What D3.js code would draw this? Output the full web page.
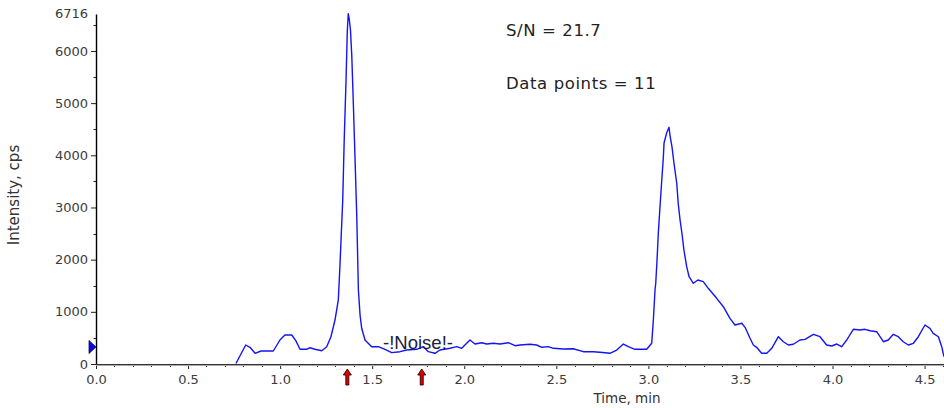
<!DOCTYPE html>
<html>
<head>
<meta charset="utf-8">
<script src="https://cdn.jsdelivr.net/npm/d3@7"></script>
<style>
  body { margin: 0; background: #fff; }
  svg { display: block; }
</style>
</head>
<body>
<svg id="chart" width="944" height="408"></svg>
<script>
// trace: time (min) and intensity (cps)
const times = [0.760, 0.813, 0.836, 0.864, 0.896, 0.963, 0.999, 1.026, 1.063, 1.085,
  1.108, 1.144, 1.162, 1.189, 1.226, 1.253, 1.276, 1.298, 1.316, 1.325,
  1.340, 1.348, 1.358, 1.365, 1.370, 1.376, 1.382, 1.389, 1.397, 1.407,
  1.416, 1.425, 1.434, 1.443, 1.461, 1.497, 1.533, 1.570, 1.606, 1.651,
  1.687, 1.742, 1.778, 1.805, 1.841, 1.868, 1.923, 1.959, 1.986, 2.031,
  2.058, 2.095, 2.122, 2.158, 2.194, 2.239, 2.276, 2.303, 2.357, 2.393,
  2.421, 2.456, 2.484, 2.538, 2.592, 2.647, 2.701, 2.737, 2.791, 2.828,
  2.864, 2.891, 2.927, 2.991, 3.018, 3.027, 3.036, 3.040, 3.047, 3.054,
  3.063, 3.072, 3.081, 3.085, 3.099, 3.112, 3.117, 3.128, 3.139, 3.154,
  3.162, 3.172, 3.182, 3.193, 3.208, 3.221, 3.244, 3.269, 3.298, 3.325,
  3.371, 3.407, 3.443, 3.470, 3.507, 3.525, 3.552, 3.570, 3.588, 3.615,
  3.643, 3.670, 3.706, 3.733, 3.760, 3.787, 3.823, 3.851, 3.896, 3.932,
  3.968, 3.996, 4.023, 4.050, 4.077, 4.113, 4.149, 4.176, 4.204, 4.240,
  4.276, 4.303, 4.330, 4.357, 4.384, 4.412, 4.439, 4.466, 4.502, 4.529,
  4.547, 4.575, 4.593, 4.605];
const intensity = [10, 364, 320, 205, 249, 249, 460, 556, 556, 447,
  282, 282, 312, 282, 255, 332, 523, 843, 1227, 1898,
  3144, 4294, 5444, 6402, 6716, 6594, 6402, 5923, 5060, 3910,
  2856, 1418, 939, 684, 460, 332, 332, 282, 217, 236,
  268, 282, 332, 236, 205, 268, 301, 332, 301, 460,
  383, 408, 383, 397, 383, 408, 351, 364, 378, 364,
  320, 332, 301, 288, 293, 236, 236, 224, 205, 268,
  383, 332, 282, 282, 397, 843, 1418, 1553, 1993, 2511,
  3015, 3494, 3949, 4236, 4428, 4537, 4389, 4165, 3847, 3464,
  3080, 2760, 2511, 2185, 1865, 1673, 1547, 1610, 1578, 1451,
  1259, 1098, 876, 748, 780, 703, 493, 364, 320, 205,
  205, 301, 523, 427, 364, 378, 460, 473, 569, 523,
  364, 345, 383, 332, 460, 665, 652, 665, 638, 619,
  427, 460, 569, 523, 427, 364, 397, 523, 748, 684,
  588, 523, 332, 140];

const yMax = 6716;
const xMax = 4.6;
const yTickValues = [0, 1000, 2000, 3000, 4000, 5000, 6000];
const xTickValues = [0, 0.5, 1.0, 1.5, 2.0, 2.5, 3.0, 3.5, 4.0, 4.5];
const noiseArrows = [1.365, 1.769];
const thresholdLevel = 326;
const annotations = ['S/N = 21.7', 'Data points = 11'];

const plotLeft = 96, plotRight = 943, plotTop = 13.6, plotBottom = 364;
const svg = d3.select('#chart');

const x = d3.scaleLinear().domain([0, xMax]).range([plotLeft, plotRight]);
const y = d3.scaleLinear().domain([0, yMax]).range([plotBottom, plotTop]);

svg.append('defs').append('clipPath')
  .attr('id', 'plotClip')
  .append('rect')
  .attr('x', plotLeft)
  .attr('y', 0)
  .attr('width', plotRight - plotLeft + 1)
  .attr('height', plotBottom + 1);

// y axis
let yAxis = d3.axisLeft(y)
  .tickValues(yTickValues)
  .tickSize(5)
  .tickPadding(3)
  .tickFormat(d3.format('d'));
let yg = svg.append('g')
  .attr('transform', 'translate(' + plotLeft + ',0)')
  .call(yAxis);
yg.select('.domain').remove();
yg.selectAll('text')
  .style('font-family', '"DejaVu Sans", Verdana, sans-serif')
  .style('font-size', '13px')
  .attr('fill', '#3c3c3c');
yg.selectAll('line').attr('stroke', '#222');

let yMinor = d3.range(500, 6716, 1000);
svg.append('g').selectAll('line')
  .data(yMinor)
  .enter()
  .append('line')
  .attr('x1', plotLeft - 2.5)
  .attr('x2', plotLeft)
  .attr('y1', function (d) { return Math.round(y(d)) + 0.5; })
  .attr('y2', function (d) { return Math.round(y(d)) + 0.5; })
  .attr('stroke', '#222');

svg.append('text')
  .attr('x', plotLeft - 8)
  .attr('y', y(yMax) + 4.5)
  .attr('text-anchor', 'end')
  .style('font-family', '"DejaVu Sans", Verdana, sans-serif')
  .style('font-size', '13px')
  .attr('fill', '#3c3c3c')
  .text(yMax);

svg.append('line')
  .attr('x1', plotLeft + 0.5)
  .attr('x2', plotLeft + 0.5)
  .attr('y1', plotTop + 1)
  .attr('y2', plotBottom + 1)
  .attr('stroke', '#000')
  .attr('stroke-width', 1.4);

// x axis
let xAxis = d3.axisBottom(x)
  .tickValues(xTickValues)
  .tickSize(5)
  .tickPadding(6)
  .tickFormat(d3.format('.1f'));
let xg = svg.append('g')
  .attr('transform', 'translate(0,' + plotBottom + ')')
  .call(xAxis);
xg.select('.domain').remove();
xg.selectAll('text')
  .style('font-family', '"DejaVu Sans", Verdana, sans-serif')
  .style('font-size', '13px')
  .attr('fill', '#3c3c3c');
xg.selectAll('line').attr('stroke', '#222');

let xMinor = d3.range(1, 47).map(function (i) { return i / 10; }).filter(function (d) {
  return Math.abs(d * 2 - Math.round(d * 2)) > 1e-6;
});
svg.append('g').selectAll('line')
  .data(xMinor)
  .enter()
  .append('line')
  .attr('x1', function (d) { return Math.round(x(d)) + 0.5; })
  .attr('x2', function (d) { return Math.round(x(d)) + 0.5; })
  .attr('y1', plotBottom)
  .attr('y2', plotBottom + 3)
  .attr('stroke', '#222');

svg.append('line')
  .attr('x1', plotLeft)
  .attr('x2', 944)
  .attr('y1', plotBottom + 0.5)
  .attr('y2', plotBottom + 0.5)
  .attr('stroke', '#333');
svg.append('line')
  .attr('x1', plotLeft)
  .attr('x2', 944)
  .attr('y1', plotBottom + 1.5)
  .attr('y2', plotBottom + 1.5)
  .attr('stroke', '#aaa');

// axis titles
svg.append('text')
  .attr('x', 627)
  .attr('y', 403)
  .attr('text-anchor', 'middle')
  .style('font-family', '"DejaVu Sans", Verdana, sans-serif')
  .style('font-size', '13.5px')
  .attr('fill', '#333')
  .text('Time, min');

svg.append('text')
  .attr('transform', 'translate(19,' + 195 + ') rotate(-90)')
  .attr('text-anchor', 'middle')
  .style('font-family', '"DejaVu Sans", Verdana, sans-serif')
  .style('font-size', '15px')
  .attr('fill', '#333')
  .text('Intensity, cps');

// trace
let trace = times.map(function (t, i) { return [t, intensity[i]]; });
let line = d3.line()
  .x(function (d) { return x(d[0]); })
  .y(function (d) { return y(d[1]); });
svg.append('path')
  .attr('clip-path', 'url(#plotClip)')
  .attr('d', line(trace))
  .attr('fill', 'none')
  .attr('stroke', '#1414f5')
  .attr('stroke-width', 1.4)
  .attr('stroke-linejoin', 'round');

// threshold marker on y axis
let ty = y(thresholdLevel);
svg.append('path')
  .attr('d', 'M' + (plotLeft - 7) + ',' + (ty - 6.5) + 'L' + (plotLeft) + ',' + ty + 'L' + (plotLeft - 7) + ',' + (ty + 6.5) + 'Z')
  .attr('fill', '#0a0ae0')
  .attr('stroke', '#101040')
  .attr('stroke-width', 0.8);

// noise region arrows
svg.append('g').selectAll('path')
  .data(noiseArrows)
  .enter()
  .append('path')
  .attr('d', function (d) {
    let cx = x(d);
    let t0 = 369;
    return 'M' + cx + ',' + t0 +
      'L' + (cx + 4) + ',' + (t0 + 6) +
      'L' + (cx + 1.5) + ',' + (t0 + 6) +
      'L' + (cx + 1.5) + ',' + (t0 + 16) +
      'L' + (cx - 1.5) + ',' + (t0 + 16) +
      'L' + (cx - 1.5) + ',' + (t0 + 6) +
      'L' + (cx - 4) + ',' + (t0 + 6) + 'Z';
  })
  .attr('fill', '#e00000')
  .attr('stroke', '#300')
  .attr('stroke-width', 0.9);

svg.append('text')
  .attr('x', 418)
  .attr('y', 349)
  .attr('text-anchor', 'middle')
  .style('font-family', '"Liberation Sans", Arial, sans-serif')
  .style('font-size', '18.5px')
  .attr('fill', '#202040')
  .text('-!Noise!-');

// annotations
svg.append('g').selectAll('text')
  .data(annotations)
  .enter()
  .append('text')
  .attr('x', 506)
  .attr('y', function (d, i) { return 36 + i * 53; })
  .style('font-family', '"DejaVu Sans", Verdana, sans-serif')
  .style('font-size', '16.5px')
  .style('letter-spacing', '0.6px')
  .attr('fill', '#222')
  .text(function (d) { return d; });
</script>
</body>
</html>
